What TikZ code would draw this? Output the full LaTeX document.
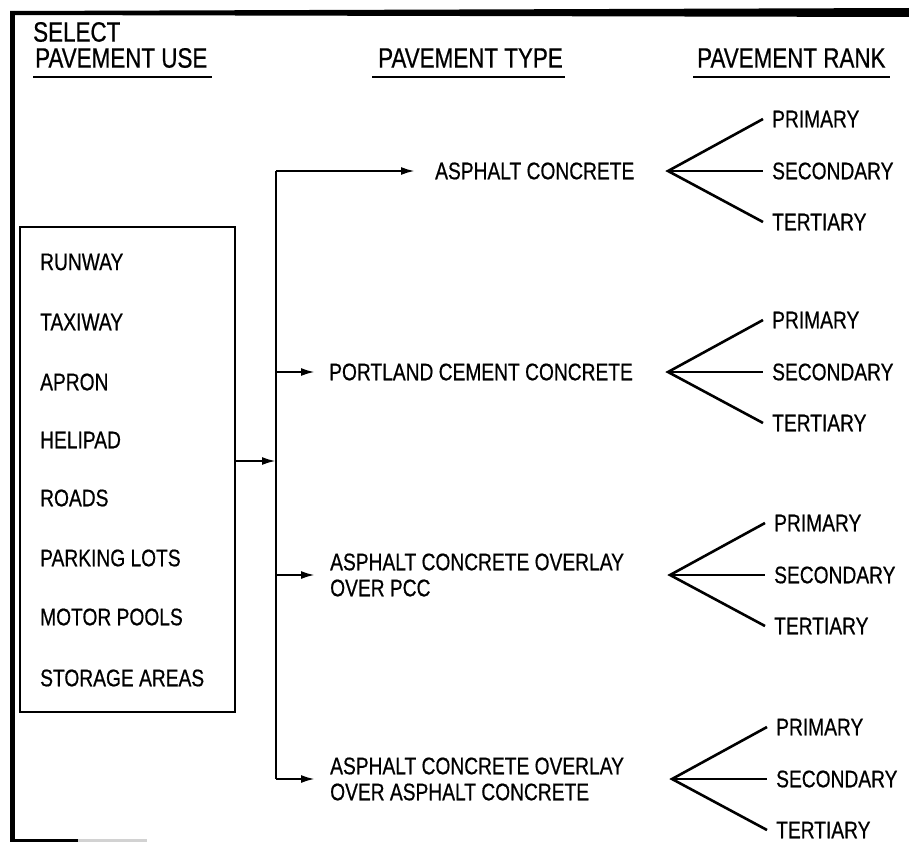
\documentclass[tikz,border=0pt]{standalone}
\usepackage{fontspec}
\setmainfont{Liberation Sans}[FakeStretch=0.8,FakeBold=0.6]
\usetikzlibrary{arrows.meta}
\begin{document}
\begin{tikzpicture}[x=1pt,y=-1pt,
  item/.style={anchor=west,inner sep=0pt,font=\fontsize{24}{26}\selectfont},
  head/.style={anchor=west,inner sep=0pt,font=\fontsize{28}{30}\selectfont},
  tlabel/.style={anchor=west,inner ysep=0pt,align=left,font=\fontsize{24}{26}\selectfont},
  rlabel/.style={anchor=west,inner ysep=0pt,inner xsep=9pt,font=\fontsize{24}{26}\selectfont},
  conn/.style={line width=2.2pt},
  arr/.style={conn,-{Latex[length=14pt,width=8pt]}},
  fan/.style={line width=2.6pt},
  uline/.style={line width=2pt},
]
\useasboundingbox (0,0) rectangle (909,843);
% frame
\fill (10,11) -- (909,8) -- (909,17) -- (10,15) -- cycle;
\draw[line width=4.5pt] (12.5,11) -- (12.5,842);
\draw[line width=3pt] (11,840.5) -- (78,840.5);
\draw[line width=3pt,gray!35] (78,840.5) -- (147,840.5);
% headers
\node[head] (sel) at (33,32) {SELECT};
\node[head] (huse) at (35,58) {PAVEMENT USE};
\node[head] (htype) at (378,58) {PAVEMENT TYPE};
\node[head] (hrank) at (697,58) {PAVEMENT RANK};
\draw[uline] ([xshift=-2pt,yshift=-9pt]huse.south west) -- ([xshift=4pt,yshift=-9pt]huse.south east);
\draw[uline] ([xshift=-6pt,yshift=-9pt]htype.south west) -- ([xshift=2pt,yshift=-9pt]htype.south east);
\draw[uline] ([xshift=-4pt,yshift=-9pt]hrank.south west) -- ([xshift=4pt,yshift=-9pt]hrank.south east);
% use box
\node[draw,line width=1.8pt,minimum width=215pt,minimum height=485pt,inner sep=0pt] (use) at (127.5,469.5) {};
\node[item] (i1) at (40,262) {RUNWAY};
\node[item] (i2) at (40,322) {TAXIWAY};
\node[item] (i3) at (40,382) {APRON};
\node[item] (i4) at (40,440) {HELIPAD};
\node[item] (i5) at (40,498) {ROADS};
\node[item] (i6) at (40,558) {PARKING LOTS};
\node[item] (i7) at (40,617) {MOTOR POOLS};
\node[item] (i8) at (40,678) {STORAGE AREAS};
% connectors
\coordinate (jm) at (276,461);
\coordinate (jt) at (276,171);
\coordinate (jb) at (276,779);
\draw[arr] (use.east |- jm) -- (jm);
\draw[conn] (jt) -- (jb);
% pavement types
\node[tlabel,inner xsep=20pt] (t1) at (415,171) {ASPHALT CONCRETE};
\node[tlabel,inner xsep=14pt] (t2) at (315,372) {PORTLAND CEMENT CONCRETE};
\node[tlabel,inner xsep=15pt] (t3) at (315,575) {ASPHALT CONCRETE OVERLAY\\OVER PCC};
\node[tlabel,inner xsep=15pt] (t4) at (315,779) {ASPHALT CONCRETE OVERLAY\\OVER ASPHALT CONCRETE};
\draw[arr] (jt) -- (t1.west);
\draw[arr] (jt |- t2.west) -- (t2.west);
\draw[arr] (jt |- t3.west) -- (t3.west);
\draw[arr] (jb) -- (t4.west);
% ranks
\foreach \k/\ax/\ay/\ex in {1/668/171/763, 2/668/372/763, 3/670/575/765, 4/672/779/767}{
  \coordinate (a\k) at (\ax,\ay);
  \node[rlabel] (p\k) at (\ex,\ay-52) {PRIMARY};
  \node[rlabel] (s\k) at (\ex,\ay) {SECONDARY};
  \node[rlabel] (q\k) at (\ex,\ay+51) {TERTIARY};
  \draw[fan] (p\k.west) -- (a\k) -- (q\k.west);
  \draw[fan] (a\k) -- (s\k.west);
}
\end{tikzpicture}
\end{document}
